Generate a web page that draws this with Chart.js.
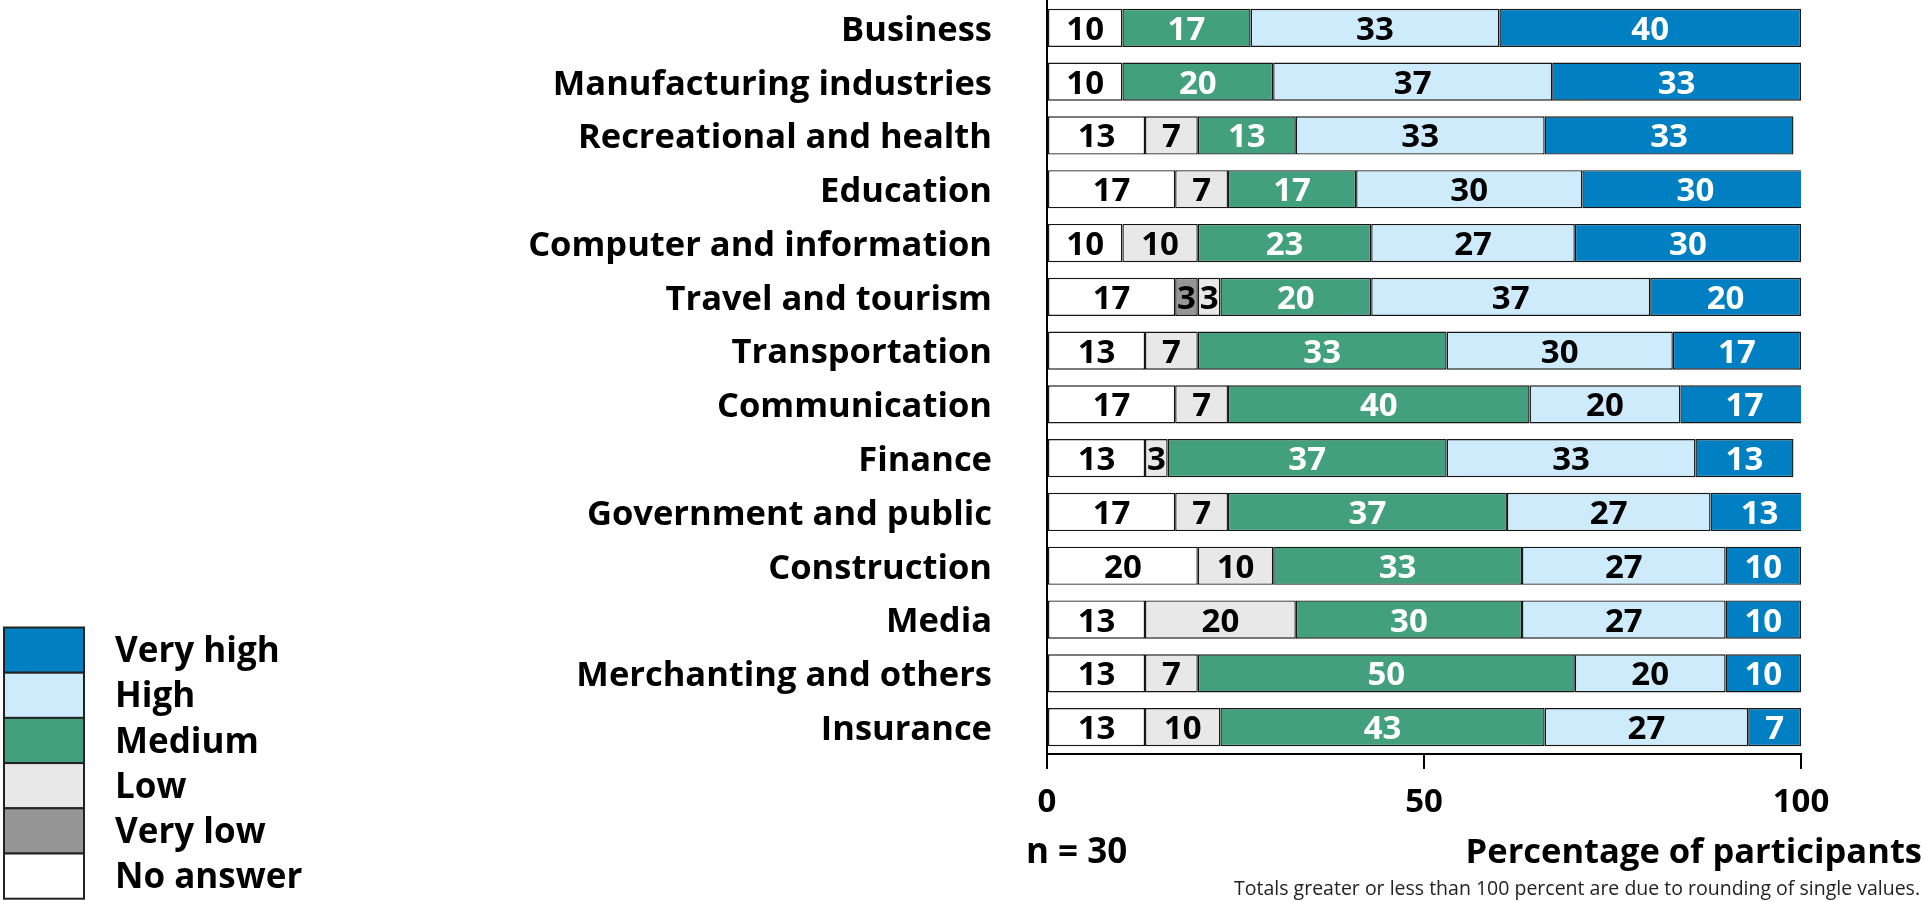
<!DOCTYPE html>
<html>
<head>
<meta charset="utf-8">
<title>Importance by sector</title>
<script src="https://cdn.jsdelivr.net/npm/chart.js@4.4.1/dist/chart.umd.min.js"></script>
<style>
  html, body { margin: 0; padding: 0; background: #fff; }
  #wrap { position: relative; width: 1926px; height: 901px; }
</style>
</head>
<body>
<div id="wrap"><canvas id="sectors"></canvas></div>
<script>
// sectors, top to bottom
var sectors = ["Business", "Manufacturing industries", "Recreational and health", "Education",
  "Computer and information", "Travel and tourism", "Transportation", "Communication", "Finance",
  "Government and public", "Construction", "Media", "Merchanting and others", "Insurance"];

// percent of participants per answer, n = 30
var noAnswer = [10, 10, 13, 17, 10, 17, 13, 17, 13, 17, 20, 13, 13, 13];
var veryLow  = [ 0,  0,  0,  0,  0,  3,  0,  0,  0,  0,  0,  0,  0,  0];
var low      = [ 0,  0,  7,  7, 10,  3,  7,  7,  3,  7, 10, 20,  7, 10];
var medium   = [17, 20, 13, 17, 23, 20, 33, 40, 37, 37, 33, 30, 50, 43];
var high     = [33, 37, 33, 30, 27, 37, 30, 20, 33, 27, 27, 27, 20, 27];
var veryHigh = [40, 33, 33, 30, 30, 20, 17, 17, 13, 13, 10, 10, 10,  7];

var xTicks = [0, 50, 100];

var FONT = '"Open Sans", "Noto Sans", sans-serif';

function series(label, data, fill, text) {
  return {
    label: label,
    data: data,
    backgroundColor: fill,
    borderColor: '#161616',
    borderWidth: 1.4,
    borderSkipped: false,
    labelColor: text
  };
}

var datasets = [
  series('No answer', noAnswer, '#ffffff', '#000'),
  series('Very low', veryLow, '#959595', '#000'),
  series('Low', low, '#e8e8e8', '#000'),
  series('Medium', medium, '#42a07e', '#fff'),
  series('High', high, '#cdebfb', '#000'),
  series('Very high', veryHigh, '#0080c2', '#fff')
];

// value printed in the middle of each segment
var segmentLabels = {
  id: 'segmentLabels',
  afterDatasetsDraw: function(chart) {
    var ctx = chart.ctx;
    ctx.save();
    ctx.font = 'bold 33px ' + FONT;
    ctx.textAlign = 'center';
    ctx.textBaseline = 'alphabetic';
    chart.data.datasets.forEach(function(ds, i) {
      chart.getDatasetMeta(i).data.forEach(function(bar, j) {
        var v = ds.data[j];
        if (!v) return;
        var c = bar.getCenterPoint();
        ctx.fillStyle = ds.labelColor;
        ctx.fillText(String(v), c.x, c.y + 12);
      });
    });
    ctx.restore();
  }
};

// stacked legend boxes, sample size and notes
var extras = {
  id: 'extras',
  afterDraw: function(chart) {
    var ctx = chart.ctx;
    var area = chart.chartArea;
    ctx.save();

    var boxH = 45.2, top = 627.5;
    ctx.font = 'bold 35px ' + FONT;
    ctx.textAlign = 'left';
    chart.data.datasets.slice().reverse().forEach(function(ds, k) {
      var y = top + k * boxH;
      ctx.fillStyle = ds.backgroundColor;
      ctx.fillRect(4, y, 80, boxH);
      ctx.strokeStyle = '#222';
      ctx.lineWidth = 2;
      ctx.strokeRect(4, y, 80, boxH);
      ctx.fillStyle = '#000';
      ctx.fillText(ds.label, 115, y + boxH / 2 + 12);
    });

    ctx.fillStyle = '#000';
    ctx.font = 'bold 35px ' + FONT;
    ctx.textAlign = 'left';
    ctx.fillText('n = 30', area.left - 21, 863);
    ctx.textAlign = 'right';
    ctx.font = 'bold 34.5px ' + FONT;
    ctx.fillText('Percentage of participants', 1922, 863);

    ctx.font = '19.5px ' + FONT;
    ctx.fillStyle = '#222';
    ctx.fillText('Totals greater or less than 100 percent are due to rounding of single values.', 1920, 895);
    ctx.restore();
  }
};

new Chart(document.getElementById('sectors'), {
  type: 'bar',
  data: { labels: sectors, datasets: datasets },
  plugins: [segmentLabels, extras],
  options: {
    indexAxis: 'y',
    responsive: true,
    maintainAspectRatio: false,
    animation: false,
    layout: { padding: { top: 1, right: 125, bottom: 0, left: 0 } },
    datasets: { bar: { barPercentage: 0.71, categoryPercentage: 1 } },
    plugins: { legend: { display: false }, tooltip: { enabled: false } },
    scales: {
      x: {
        stacked: true,
        min: 0,
        max: 100,
        afterBuildTicks: function(scale) {
          scale.ticks = xTicks.map(function(v) { return { value: v }; });
        },
        afterFit: function(scale) { scale.height = 147; },
        grid: { drawOnChartArea: false, drawTicks: true, tickLength: 15, color: '#000', lineWidth: 2 },
        border: { display: true, color: '#000', width: 2 },
        ticks: { color: '#000', padding: 14, maxRotation: 0, font: { family: FONT, size: 33, weight: 'bold' } }
      },
      y: {
        stacked: true,
        afterFit: function(scale) {
          scale.width = 1047;
          // labels sit beside the bars, no room needed above or below
          scale.paddingTop = 0;
          scale.paddingBottom = 0;
        },
        grid: { display: false, drawTicks: false },
        border: { display: true, color: '#000', width: 2 },
        ticks: { color: '#000', padding: 55, labelOffset: 3, font: { family: FONT, size: 34.5, weight: 'bold' } }
      }
    }
  }
});
</script>
</body>
</html>
